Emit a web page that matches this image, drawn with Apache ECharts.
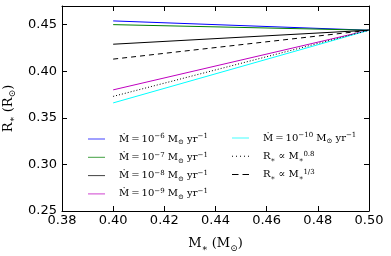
<!DOCTYPE html>
<html><head><meta charset="utf-8">
<script src="https://cdn.jsdelivr.net/npm/echarts@6/dist/echarts.min.js"></script>
<style>html,body{margin:0;padding:0;background:#fff}#c{width:391px;height:256px}</style>
</head><body><div id="c"></div>
<script>
const masses = [0.40, 0.50];
const r_m6 = [0.454, 0.444];
const r_m7 = [0.450, 0.444];
const r_m8 = [0.429, 0.444];
const r_m9 = [0.380, 0.444];
const r_m10 = [0.366, 0.444];
const r_p08 = [0.373, 0.444];
const r_p13 = [0.413, 0.444];
const seriesNames = ['m6','m7','m8','m9','m10','p08','p13'];
const xTicks = [0.38,0.40,0.42,0.44,0.46,0.48,0.50];
const yTicks = [0.25,0.30,0.35,0.40,0.45];

const rich = {
  n:{fontFamily:'DejaVu Serif',fontSize:10,lineHeight:14,color:'#000'},
  sup:{fontFamily:'DejaVu Serif',fontSize:7,lineHeight:14,verticalAlign:'top',color:'#000',padding:[1,0,0,0]},
  sub:{fontFamily:'DejaVu Serif',fontSize:7,lineHeight:14,verticalAlign:'bottom',color:'#000'}
};
const labels = {
  m6:'{n|Ṁ\u2009=\u200910}{sup|−6}{n| M}{sub|⊙}{n| yr}{sup|−1}',
  m7:'{n|Ṁ\u2009=\u200910}{sup|−7}{n| M}{sub|⊙}{n| yr}{sup|−1}',
  m8:'{n|Ṁ\u2009=\u200910}{sup|−8}{n| M}{sub|⊙}{n| yr}{sup|−1}',
  m9:'{n|Ṁ\u2009=\u200910}{sup|−9}{n| M}{sub|⊙}{n| yr}{sup|−1}',
  m10:'{n|Ṁ\u2009=\u200910}{sup|−10}{n| M}{sub|⊙}{n| yr}{sup|−1}',
  p08:'{n|R}{sub|∗}{n| ∝ M}{sub|∗}{sup|0.8}',
  p13:'{n|R}{sub|∗}{n| ∝ M}{sub|∗}{sup|1/3}'
};
const dataMap = {m6:r_m6,m7:r_m7,m8:r_m8,m9:r_m9,m10:r_m10,p08:r_p08,p13:r_p13};
const colors = {m6:'#0000ff',m7:'#008000',m8:'#000000',m9:'#bf00bf',m10:'#00ffff',p08:'#000000',p13:'#000000'};
const types = {p08:[1,2],p13:[5,4]};
const icons = {
  p08:'path://M0,0h1v1h-1z M4,0h1v1h-1z M8,0h1v1h-1z M12,0h1v1h-1z M16,0h1v1h-1z',
  p13:'path://M0,0h6.5v1h-6.5z M10.5,0h6.5v1h-6.5z'
};

const series = seriesNames.map(k=>({
  name:k, type:'line', xAxisIndex:0, yAxisIndex:0,
  data: masses.map((m,i)=>[m,dataMap[k][i]]),
  symbol:'none', showSymbol:false, animation:false,
  lineStyle:{color:colors[k],width:1,type:types[k]||'solid'},
  itemStyle:{color:colors[k]}
}));

const tickFont = {fontFamily:'DejaVu Sans',fontSize:13,color:'#000'};
const legendItem = k => ({name:k, icon: icons[k] || 'rect', itemStyle:{opacity: icons[k] ? 1 : 0.75}});
const legendBase = {orient:'vertical',itemWidth:17,itemHeight:1,itemGap:4.3,
  formatter:n=>labels[n],textStyle:{rich:rich,padding:[0,0,0,9]}};

const chart = echarts.init(document.getElementById('c'),null,{renderer:'canvas'});
chart.setOption({
  animation:false,
  grid:{left:62,right:22,top:6,bottom:45,show:false,containLabel:false,outerBoundsMode:'none'},
  legend:[
    Object.assign({},legendBase,{left:83,top:127,data:['m6','m7','m8','m9'].map(legendItem)}),
    Object.assign({},legendBase,{left:227,top:126,data:['m10','p08','p13'].map(legendItem)})
  ],
  xAxis:[{
    type:'value',min:0.38,max:0.50,interval:0.02,position:'bottom',
    axisLine:{show:true,lineStyle:{color:'#000',width:1}},
    axisTick:{inside:true,length:5,lineStyle:{color:'#000'}},
    axisLabel:Object.assign({margin:3,formatter:v=>v.toFixed(2)},tickFont),
    splitLine:{show:false},
    name:'{a|M}{s|∗}{a| (M}{s|⊙}{a|)}',nameLocation:'middle',nameGap:24,
    nameTextStyle:{rich:{a:{fontFamily:'DejaVu Serif',fontSize:13,color:'#000',lineHeight:18},s:{fontFamily:'DejaVu Serif',fontSize:9,color:'#000',verticalAlign:'bottom',lineHeight:18}}}
  },{
    type:'value',min:0.38,max:0.50,interval:0.02,position:'top',
    axisLine:{show:true,lineStyle:{color:'#000',width:1}},
    axisTick:{inside:true,length:5,lineStyle:{color:'#000'}},
    axisLabel:{show:false},splitLine:{show:false}
  }],
  yAxis:[{
    type:'value',min:0.25,max:0.47,interval:0.05,position:'left',
    axisLine:{show:true,lineStyle:{color:'#000',width:1}},
    axisTick:{inside:true,length:5,lineStyle:{color:'#000'}},
    axisLabel:Object.assign({margin:5,showMaxLabel:false,formatter:v=>yTicks.some(t=>Math.abs(t-v)<1e-6)?v.toFixed(2):''},tickFont),
    splitLine:{show:false},
    name:'{a|R}{s|∗}{a| (R}{s|⊙}{a|)}',nameLocation:'middle',nameGap:34,nameRotate:90,
    nameTextStyle:{rich:{a:{fontFamily:'DejaVu Serif',fontSize:13,color:'#000',lineHeight:18},s:{fontFamily:'DejaVu Serif',fontSize:9,color:'#000',verticalAlign:'bottom',lineHeight:18}}}
  },{
    type:'value',min:0.25,max:0.47,interval:0.05,position:'right',
    axisLine:{show:true,lineStyle:{color:'#000',width:1}},
    axisTick:{inside:true,length:5,lineStyle:{color:'#000'}},
    axisLabel:{show:false},splitLine:{show:false}
  }],
  series:series
});
</script></body></html>
